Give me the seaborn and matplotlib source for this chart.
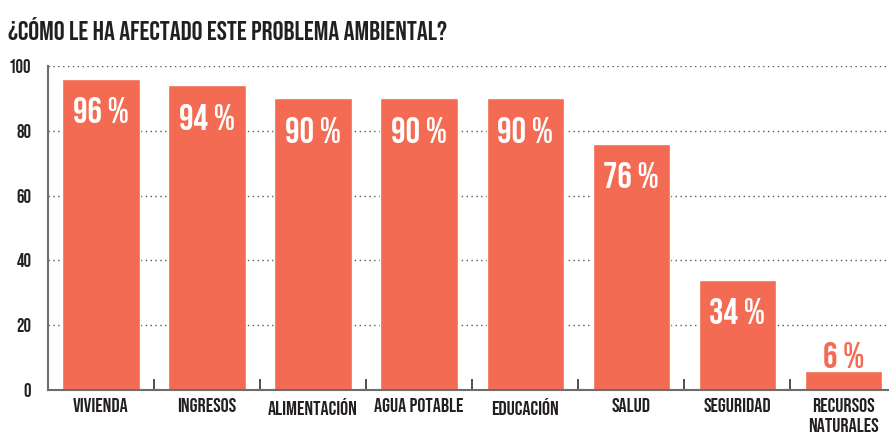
import numpy as np
import pandas as pd
import seaborn as sns
import matplotlib.pyplot as plt
from matplotlib.ticker import FixedLocator

categorias = ["VIVIENDA", "INGRESOS", "ALIMENTACIÓN", "AGUA POTABLE", "EDUCACIÓN",
              "SALUD", "SEGURIDAD", "RECURSOS\nNATURALES"]
porcentajes = [96, 94, 90, 90, 90, 76, 34, 6]
y_ticks = [0, 20, 40, 60, 80, 100]

bar_color = "#F26B52"
text_color = "#231F20"
fuente = ["Bebas Neue", "Oswald", "DejaVu Sans"]

sns.set_style("white")
plt.rcParams['font.family'] = fuente

df = pd.DataFrame({"cat": categorias, "pct": porcentajes})

fig = plt.figure(figsize=(8.89, 4.33), dpi=100)
ax = fig.add_axes([48 / 889, 43 / 433, 841 / 889, 324 / 433])

sns.barplot(data=df, x="cat", y="pct", color=bar_color, saturation=1,
            width=0.73, ax=ax, zorder=2)

ax.set_ylim(0, 100)
ax.set_xlim(-0.5, 7.43)
ax.set_yticks(y_ticks)
ax.yaxis.grid(True, linestyle=(0, (1, 2.5)), color="#555555", linewidth=1, zorder=0)
ax.set_axisbelow(True)

for s in ["top", "right"]:
    ax.spines[s].set_visible(False)
for s in ["left", "bottom"]:
    ax.spines[s].set_color("#6d6d6d")
    ax.spines[s].set_linewidth(1.5)

ax.tick_params(axis="y", length=0, labelsize=13.5, labelcolor=text_color, pad=12)
ax.tick_params(axis="x", length=0, labelsize=14.5, labelcolor=text_color, pad=6)
for lab in ax.get_xticklabels():
    lab.set_linespacing(1.4)

# small ticks between categories
ax.xaxis.set_minor_locator(FixedLocator(np.arange(0.5, len(categorias) - 1, 1)))
ax.tick_params(axis="x", which="minor", bottom=True, direction="in", length=8,
               width=1.2, color="#333333")

ax.set_xlabel("")
ax.set_ylabel("")

for i, v in enumerate(porcentajes):
    if v > 15:
        ax.text(i, v - 9.6, f"{v} %", ha="center", va="center", color="white",
                fontsize=26)
    else:
        ax.text(i, v + 4.8, f"{v} %", ha="center", va="center", color=bar_color,
                fontsize=26)

fig.text(8 / 889, 1 - 28 / 433, "¿CÓMO LE HA AFECTADO ESTE PROBLEMA AMBIENTAL?",
         ha="left", va="center", fontsize=19.5, color=text_color)

fig.savefig("out.png", dpi=100)
